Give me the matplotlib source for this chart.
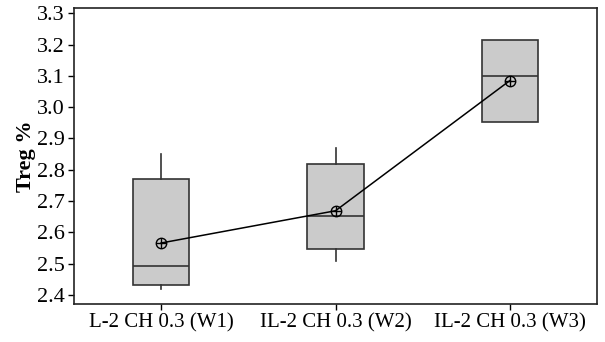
"""
Treg % box plot across IL-2 CH 0.3 weeks, with mean line.
"""
import matplotlib
matplotlib.use("Agg")
import matplotlib.pyplot as plt

# --- Data ---
groups = ["L-2 CH 0.3 (W1)", "IL-2 CH 0.3 (W2)", "IL-2 CH 0.3 (W3)"]
q1 = [2.431, 2.546, 2.952]
medians = [2.494, 2.652, 3.101]
q3 = [2.771, 2.818, 3.215]
whisker_lo = [2.420, 2.510, 2.952]
whisker_hi = [2.850, 2.869, 3.215]
means = [2.566, 2.669, 3.085]
yticks = [2.4, 2.5, 2.6, 2.7, 2.8, 2.9, 3.0, 3.1, 3.2, 3.3]

plt.rcParams["font.family"] = ["Liberation Serif", "DejaVu Serif"]

stats = []
for i, name in enumerate(groups):
    stats.append({
        "label": name,
        "q1": q1[i], "med": medians[i], "q3": q3[i],
        "whislo": whisker_lo[i], "whishi": whisker_hi[i],
        "fliers": [],
    })

# --- Plot ---
fig = plt.figure(figsize=(6.05, 3.42), dpi=100)
ax = fig.add_axes([0.1223, 0.1111, 0.8645, 0.8655])

pos = [1, 2, 3]
edge = "#333333"
ax.bxp(stats, positions=pos, widths=0.325, patch_artist=True,
       showcaps=False, showfliers=False,
       boxprops=dict(facecolor="#cbcbcb", edgecolor=edge, linewidth=1.2),
       medianprops=dict(color=edge, linewidth=1.2),
       whiskerprops=dict(color=edge, linewidth=1.2))

ax.plot(pos, means, color="k", lw=1.1, zorder=4)
ax.plot(pos, means, "o", ms=7.5, mfc="none", mec="k", mew=1.0, zorder=5)
ax.plot(pos, means, "+", ms=7.5, mec="k", mew=1.0, zorder=5)

ax.set_xlim(0.5, 3.5)
ax.set_ylim(2.371, 3.317)
ax.set_yticks(yticks)
ax.set_yticklabels([f"{v:.1f}" for v in yticks])
ax.set_xticks(pos)
ax.set_xticklabels(groups)
ax.tick_params(direction="out", length=4.5, width=1.0, colors="k", pad=3)
ax.tick_params(axis="y", labelsize=16, pad=2)
ax.tick_params(axis="x", labelsize=15, pad=2.5)
ax.set_ylabel("Treg %", fontsize=16, fontweight="bold", labelpad=1)

for s in ax.spines.values():
    s.set_linewidth(1.2)
    s.set_color("#222222")

fig.savefig("out.png", dpi=100)
